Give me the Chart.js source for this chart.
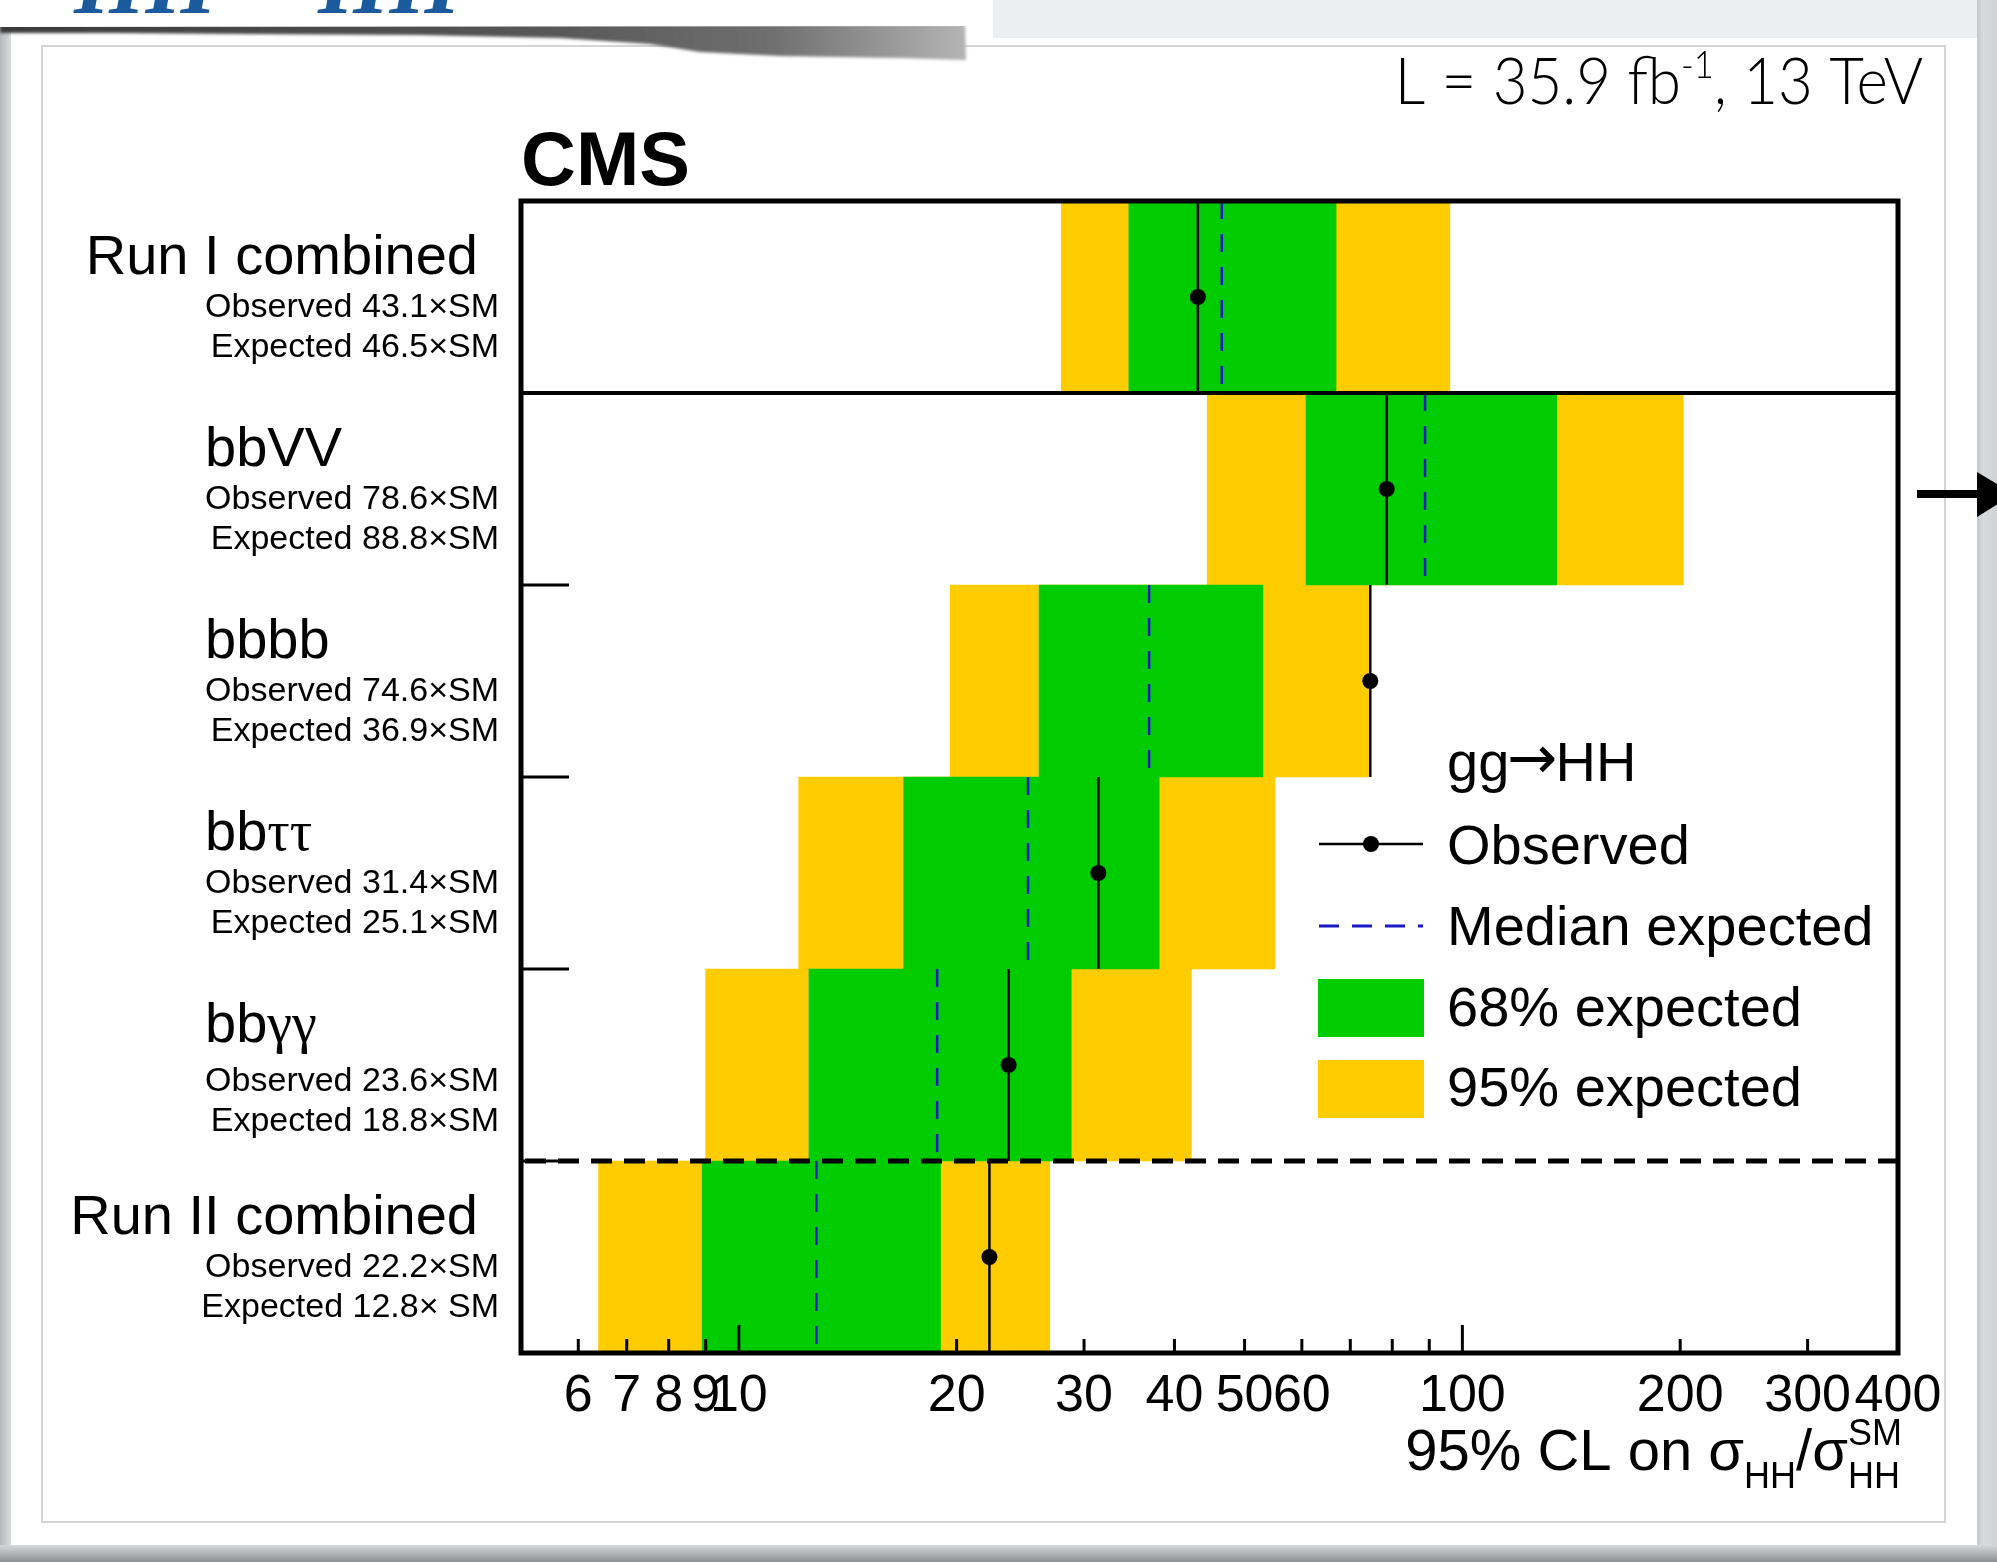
<!DOCTYPE html>
<html>
<head>
<meta charset="utf-8">
<title>HH limits</title>
<script src="https://cdn.jsdelivr.net/npm/chart.js@4.4.1/dist/chart.umd.min.js"></script>
<style>
  html, body { margin: 0; padding: 0; background: #fff; }
  #stage { position: relative; width: 1997px; height: 1562px; overflow: hidden; background: #fff; }
  #backdrop { position: absolute; left: 0; top: 0; }
  #wrap { position: absolute; left: 0; top: 0; width: 1997px; height: 1562px; }
</style>
</head>
<body>
<div id="stage">
  <svg id="backdrop" width="1997" height="1562" xmlns="http://www.w3.org/2000/svg">
    <defs>
      <linearGradient id="leftEdge" x1="0" x2="1" y1="0" y2="0">
        <stop offset="0" stop-color="#b6b8bb"/><stop offset="1" stop-color="#dadcde"/>
      </linearGradient>
      <linearGradient id="rightEdge" x1="0" x2="1" y1="0" y2="0">
        <stop offset="0" stop-color="#c4c7ca"/><stop offset="0.3" stop-color="#d8dbde"/><stop offset="1" stop-color="#d0d3d6"/>
      </linearGradient>
      <linearGradient id="bottomEdge" x1="0" x2="0" y1="0" y2="1">
        <stop offset="0" stop-color="#d6d8da"/><stop offset="1" stop-color="#8c8f92"/>
      </linearGradient>
      <linearGradient id="shadowFade" x1="0" x2="1" y1="0" y2="0">
        <stop offset="0" stop-color="#3a3a3a"/><stop offset="0.55" stop-color="#555"/><stop offset="0.8" stop-color="#6f6f6f"/><stop offset="1" stop-color="#b4b4b4"/>
      </linearGradient>
      <filter id="soft" x="-5%" y="-50%" width="110%" height="200%"><feGaussianBlur stdDeviation="1.8"/></filter>
    </defs>
    <rect width="1997" height="1562" fill="#ffffff"/>
    <rect x="993" y="0" width="1004" height="38" fill="#eceef0"/>
    <rect x="0" y="0" width="11" height="1562" fill="url(#leftEdge)"/>
    <rect x="1977" y="0" width="20" height="1562" fill="url(#rightEdge)"/>
    <rect x="0" y="1545" width="1997" height="17" fill="url(#bottomEdge)"/>
    <rect x="42" y="46" width="1903" height="1476" fill="none" stroke="#d4d4d4" stroke-width="2"/>
    <path d="M0,24 L965,24 L966,60 L900,58 L780,56 L700,52 L650,44 L560,38 L420,35 L250,34 L120,33 L0,33 Z"
          fill="url(#shadowFade)" filter="url(#soft)"/>
    <path d="M0,0 L985,0 Q993,0 993,8 L993,26 L0,27 Z" fill="#ffffff"/>
    <text x="74" y="13" font-family="Liberation Serif, serif" font-style="italic" font-weight="bold" font-size="92" fill="#1b5a9c">HH</text>
    <text x="318" y="13" font-family="Liberation Serif, serif" font-style="italic" font-weight="bold" font-size="92" fill="#1b5a9c">HH</text>
    <rect x="1917" y="490" width="64" height="8" fill="#000"/>
    <polygon points="1977,472 2014,494 1977,517" fill="#000"/>
  </svg>
  <div id="wrap"><canvas id="limits"></canvas></div>
</div>
<script>
// Upper limits on the HH production cross section, per channel and combined
const categories = ['Run I combined', 'bbVV', 'bbbb', 'bb\u03c4\u03c4', 'bb\u03b3\u03b3', 'Run II combined'];
const observedLimit = [43.1, 78.6, 74.6, 31.4, 23.6, 22.2];
const expectedLimit = [46.5, 88.8, 36.9, 25.1, 18.8, 12.8];
const band68Low  = [34.6, 60.8, 26.0, 16.9, 12.5, 8.9];
const band68High = [66.9, 135, 53.0, 38.1, 28.8, 19.0];
const band95Low  = [27.9, 44.4, 19.6, 12.1, 9.0, 6.4];
const band95High = [96.1, 202, 74.2, 55.1, 42.2, 26.9];
const expectedSuffix = ['\u00d7SM', '\u00d7SM', '\u00d7SM', '\u00d7SM', '\u00d7SM', '\u00d7 SM'];

const xTickValues = [6, 7, 8, 9, 10, 20, 30, 40, 50, 60, 70, 80, 90, 100, 200, 300, 400];
const xTickLabels = ['6', '7', '8', '9', '10', '20', '30', '40', '50', '60', '', '', '', '100', '200', '300', '400'];
const majorTicks = [10, 100];

const legendLabels = ['Observed', 'Median expected', '68% expected', '95% expected'];

const SANS = '"Liberation Sans", Arial, Helvetica, sans-serif';
const SERIF = '"Liberation Serif", "Times New Roman", serif';
const GREEN = '#00cc00';
const YELLOW = '#ffcc00';
const BLUE = '#1a1ac4';
// small downward nudge of the value lines in the diphoton row
const subLabelShift = [0, 0, 0, 0, 6, 0];

// vertical segment spanning each row, broken between rows
function rowSegments(values) {
  const pts = [];
  values.forEach((v, i) => {
    pts.push({ x: v, y: i }, { x: v, y: i + 1 }, { x: v, y: null });
  });
  return pts;
}

// text with Greek letters set in a serif face, Latin in sans
function mixedRuns(text) {
  const runs = [];
  for (const ch of text) {
    const greek = /[\u0370-\u03ff]/.test(ch);
    if (runs.length && runs[runs.length - 1].greek === greek) runs[runs.length - 1].t += ch;
    else runs.push({ t: ch, greek });
  }
  return runs;
}
function mixedWidth(ctx, text, size) {
  return mixedRuns(text).reduce((w, r) => {
    ctx.font = size + 'px ' + (r.greek ? SERIF : SANS);
    return w + ctx.measureText(r.t).width;
  }, 0);
}
function drawMixed(ctx, text, x, y, size) {
  ctx.textAlign = 'left';
  mixedRuns(text).forEach(r => {
    ctx.font = size + 'px ' + (r.greek ? SERIF : SANS);
    ctx.fillText(r.t, x, y);
    x += ctx.measureText(r.t).width;
  });
}

const decor = {
  id: 'hhDecor',
  afterDatasetsDraw(chart) {
    const { ctx, chartArea: a } = chart;
    const x = chart.scales.x;
    const yr = chart.scales.yr;
    ctx.save();
    ctx.strokeStyle = '#000';
    ctx.lineCap = 'butt';

    // tick marks on the bottom axis, pointing into the frame
    ctx.lineWidth = 3;
    xTickValues.forEach(v => {
      const px = x.getPixelForValue(v);
      const len = majorTicks.includes(v) ? 28 : 14;
      ctx.beginPath();
      ctx.moveTo(px, a.bottom);
      ctx.lineTo(px, a.bottom - len);
      ctx.stroke();
    });

    // short row markers on the left edge
    [2, 3, 4, 5].forEach(r => {
      const py = yr.getPixelForValue(r);
      ctx.beginPath();
      ctx.moveTo(a.left, py);
      ctx.lineTo(a.left + 48, py);
      ctx.stroke();
    });

    // Run I block separator
    ctx.lineWidth = 4;
    const y1 = yr.getPixelForValue(1);
    ctx.beginPath();
    ctx.moveTo(a.left, y1);
    ctx.lineTo(a.right, y1);
    ctx.stroke();

    // Run II combination separator
    ctx.lineWidth = 5;
    ctx.setLineDash([21, 12]);
    const y5 = yr.getPixelForValue(5);
    ctx.beginPath();
    ctx.moveTo(a.left + 4, y5);
    ctx.lineTo(a.right, y5);
    ctx.stroke();
    ctx.setLineDash([]);

    // frame
    ctx.lineWidth = 5;
    ctx.strokeRect(a.left, a.top, a.right - a.left, a.bottom - a.top);
    ctx.restore();
  },
  afterDraw(chart) {
    const { ctx, chartArea: a } = chart;
    const yr = chart.scales.yr;
    ctx.save();
    ctx.fillStyle = '#000';
    ctx.textBaseline = 'alphabetic';

    // row labels
    categories.forEach((name, i) => {
      const top = yr.getPixelForValue(i);
      const w = mixedWidth(ctx, name, 56);
      drawMixed(ctx, name, Math.min(a.left - 316, a.left - 43 - w), top + 73, 56);
      ctx.font = '34px ' + SANS;
      ctx.textAlign = 'right';
      const s = subLabelShift[i];
      ctx.fillText('Observed ' + observedLimit[i].toFixed(1) + '\u00d7SM', a.left - 22, top + 116 + s);
      ctx.fillText('Expected ' + expectedLimit[i].toFixed(1) + expectedSuffix[i], a.left - 22, top + 156 + s);
    });

    // CMS label
    ctx.textAlign = 'left';
    ctx.font = 'bold 76px ' + SANS;
    ctx.fillText('CMS', a.left, a.top - 16);

    // luminosity and energy, set slightly condensed
    const lumiMain = '300 66px Lato, "Open Sans", sans-serif';
    const lumiSup = '300 38px Lato, "Open Sans", sans-serif';
    const partA = 'L = 35.9 fb', partB = '-1', partC = ', 13 TeV';
    const squeeze = 0.91;
    ctx.font = lumiMain;
    const wA = ctx.measureText(partA).width, wC = ctx.measureText(partC).width;
    ctx.font = lumiSup;
    const wB = ctx.measureText(partB).width;
    ctx.save();
    ctx.scale(squeeze, 1);
    let lx = 1923 / squeeze - (wA + wB + wC);
    const ly = 104;
    ctx.font = lumiMain; ctx.fillText(partA, lx, ly); lx += wA;
    ctx.font = lumiSup; ctx.fillText(partB, lx, ly - 26); lx += wB;
    ctx.font = lumiMain; ctx.fillText(partC, lx, ly);
    ctx.restore();

    // x axis title
    const big = '58px ' + SANS, small = '36px ' + SANS;
    const tBase = a.bottom + 117;
    ctx.font = big;
    const w1 = ctx.measureText('95% CL on \u03c3').width;
    const w3 = ctx.measureText('/\u03c3').width;
    ctx.font = small;
    const w2 = ctx.measureText('HH').width;
    const w4 = Math.max(ctx.measureText('SM').width, ctx.measureText('HH').width);
    let tx = a.right + 4 - (w1 + w2 + w3 + w4);
    ctx.font = big; ctx.fillText('95% CL on \u03c3', tx, tBase); tx += w1;
    ctx.font = small; ctx.fillText('HH', tx, tBase + 18); tx += w2;
    ctx.font = big; ctx.fillText('/\u03c3', tx, tBase); tx += w3;
    ctx.font = small; ctx.fillText('SM', tx, tBase - 25); ctx.fillText('HH', tx, tBase + 18);

    // legend
    const lx0 = a.left + 797, tx0 = a.left + 926;
    const titleBase = a.top + 580;
    ctx.font = '56px ' + SANS;
    ctx.fillText('gg', tx0, titleBase);
    let gx = tx0 + ctx.measureText('gg').width;
    ctx.font = '60px "DejaVu Sans", sans-serif';
    ctx.fillText('\u2192', gx - 2, titleBase - 3);
    gx += ctx.measureText('\u2192').width - 4;
    ctx.font = '56px ' + SANS;
    ctx.fillText('HH', gx, titleBase);
    // observed
    ctx.strokeStyle = '#000'; ctx.lineWidth = 2.5;
    ctx.beginPath(); ctx.moveTo(lx0 + 1, a.top + 643); ctx.lineTo(lx0 + 105, a.top + 643); ctx.stroke();
    ctx.beginPath(); ctx.arc(lx0 + 53, a.top + 643, 8, 0, Math.PI * 2); ctx.fill();
    ctx.fillText(legendLabels[0], tx0, a.top + 663);
    // median expected
    ctx.strokeStyle = BLUE; ctx.lineWidth = 3; ctx.setLineDash([20, 13]);
    ctx.beginPath(); ctx.moveTo(lx0 + 1, a.top + 725); ctx.lineTo(lx0 + 105, a.top + 725); ctx.stroke();
    ctx.setLineDash([]);
    ctx.fillText(legendLabels[1], tx0, a.top + 744);
    // bands
    ctx.fillStyle = GREEN; ctx.fillRect(lx0, a.top + 778, 106, 58);
    ctx.fillStyle = '#000'; ctx.fillText(legendLabels[2], tx0, a.top + 825);
    ctx.fillStyle = YELLOW; ctx.fillRect(lx0, a.top + 859, 106, 58);
    ctx.fillStyle = '#000'; ctx.fillText(legendLabels[3], tx0, a.top + 905);
    ctx.restore();
  }
};

const chart = new Chart(document.getElementById('limits'), {
  type: 'bar',
  data: {
    labels: categories,
    datasets: [
      {
        type: 'scatter',
        label: 'Observed',
        data: observedLimit.map((v, i) => ({ x: v, y: i + 0.5 })),
        xAxisID: 'x', yAxisID: 'yr',
        pointRadius: 8, pointBackgroundColor: '#000', pointBorderWidth: 0,
        showLine: false, order: 1
      },
      {
        type: 'line',
        label: 'Observed limit',
        data: rowSegments(observedLimit),
        xAxisID: 'x', yAxisID: 'yr',
        borderColor: '#000', borderWidth: 2.5, pointRadius: 0,
        spanGaps: false, tension: 0, order: 2
      },
      {
        type: 'line',
        label: 'Median expected',
        data: rowSegments(expectedLimit),
        xAxisID: 'x', yAxisID: 'yr',
        borderColor: BLUE, borderWidth: 2.5, borderDash: [18, 15], pointRadius: 0,
        spanGaps: false, tension: 0, order: 3
      },
      {
        label: '68% expected',
        data: band68Low.map((lo, i) => [lo, band68High[i]]),
        indexAxis: 'y', xAxisID: 'x', yAxisID: 'y',
        backgroundColor: GREEN, borderWidth: 0,
        barPercentage: 1, categoryPercentage: 1, grouped: false, order: 4
      },
      {
        label: '95% expected',
        data: band95Low.map((lo, i) => [lo, band95High[i]]),
        indexAxis: 'y', xAxisID: 'x', yAxisID: 'y',
        backgroundColor: YELLOW, borderWidth: 0,
        barPercentage: 1, categoryPercentage: 1, grouped: false, order: 5
      }
    ]
  },
  options: {
    responsive: true,
    maintainAspectRatio: false,
    devicePixelRatio: 1,
    animation: false,
    events: [],
    layout: { padding: { left: 521, top: 201, right: 99, bottom: 109 } },
    plugins: { legend: { display: false }, tooltip: { enabled: false }, title: { display: false } },
    scales: {
      x: {
        type: 'logarithmic', position: 'bottom', min: 5, max: 400,
        grid: { display: false, drawTicks: false },
        border: { display: false },
        afterBuildTicks: s => { s.ticks = xTickValues.map(v => ({ value: v })); },
        afterFit: s => { s.height = 100; },
        ticks: {
          autoSkip: false, maxRotation: 0, minRotation: 0, padding: 12,
          color: '#000', font: { family: SANS, size: 52 },
          callback: v => xTickLabels[xTickValues.indexOf(v)]
        }
      },
      y: {
        type: 'category', position: 'left', display: false, offset: true,
        grid: { display: false }
      },
      yr: {
        type: 'linear', axis: 'y', position: 'left', display: false,
        min: 0, max: 6, reverse: true
      }
    }
  },
  plugins: [decor]
});
</script>
</body>
</html>
